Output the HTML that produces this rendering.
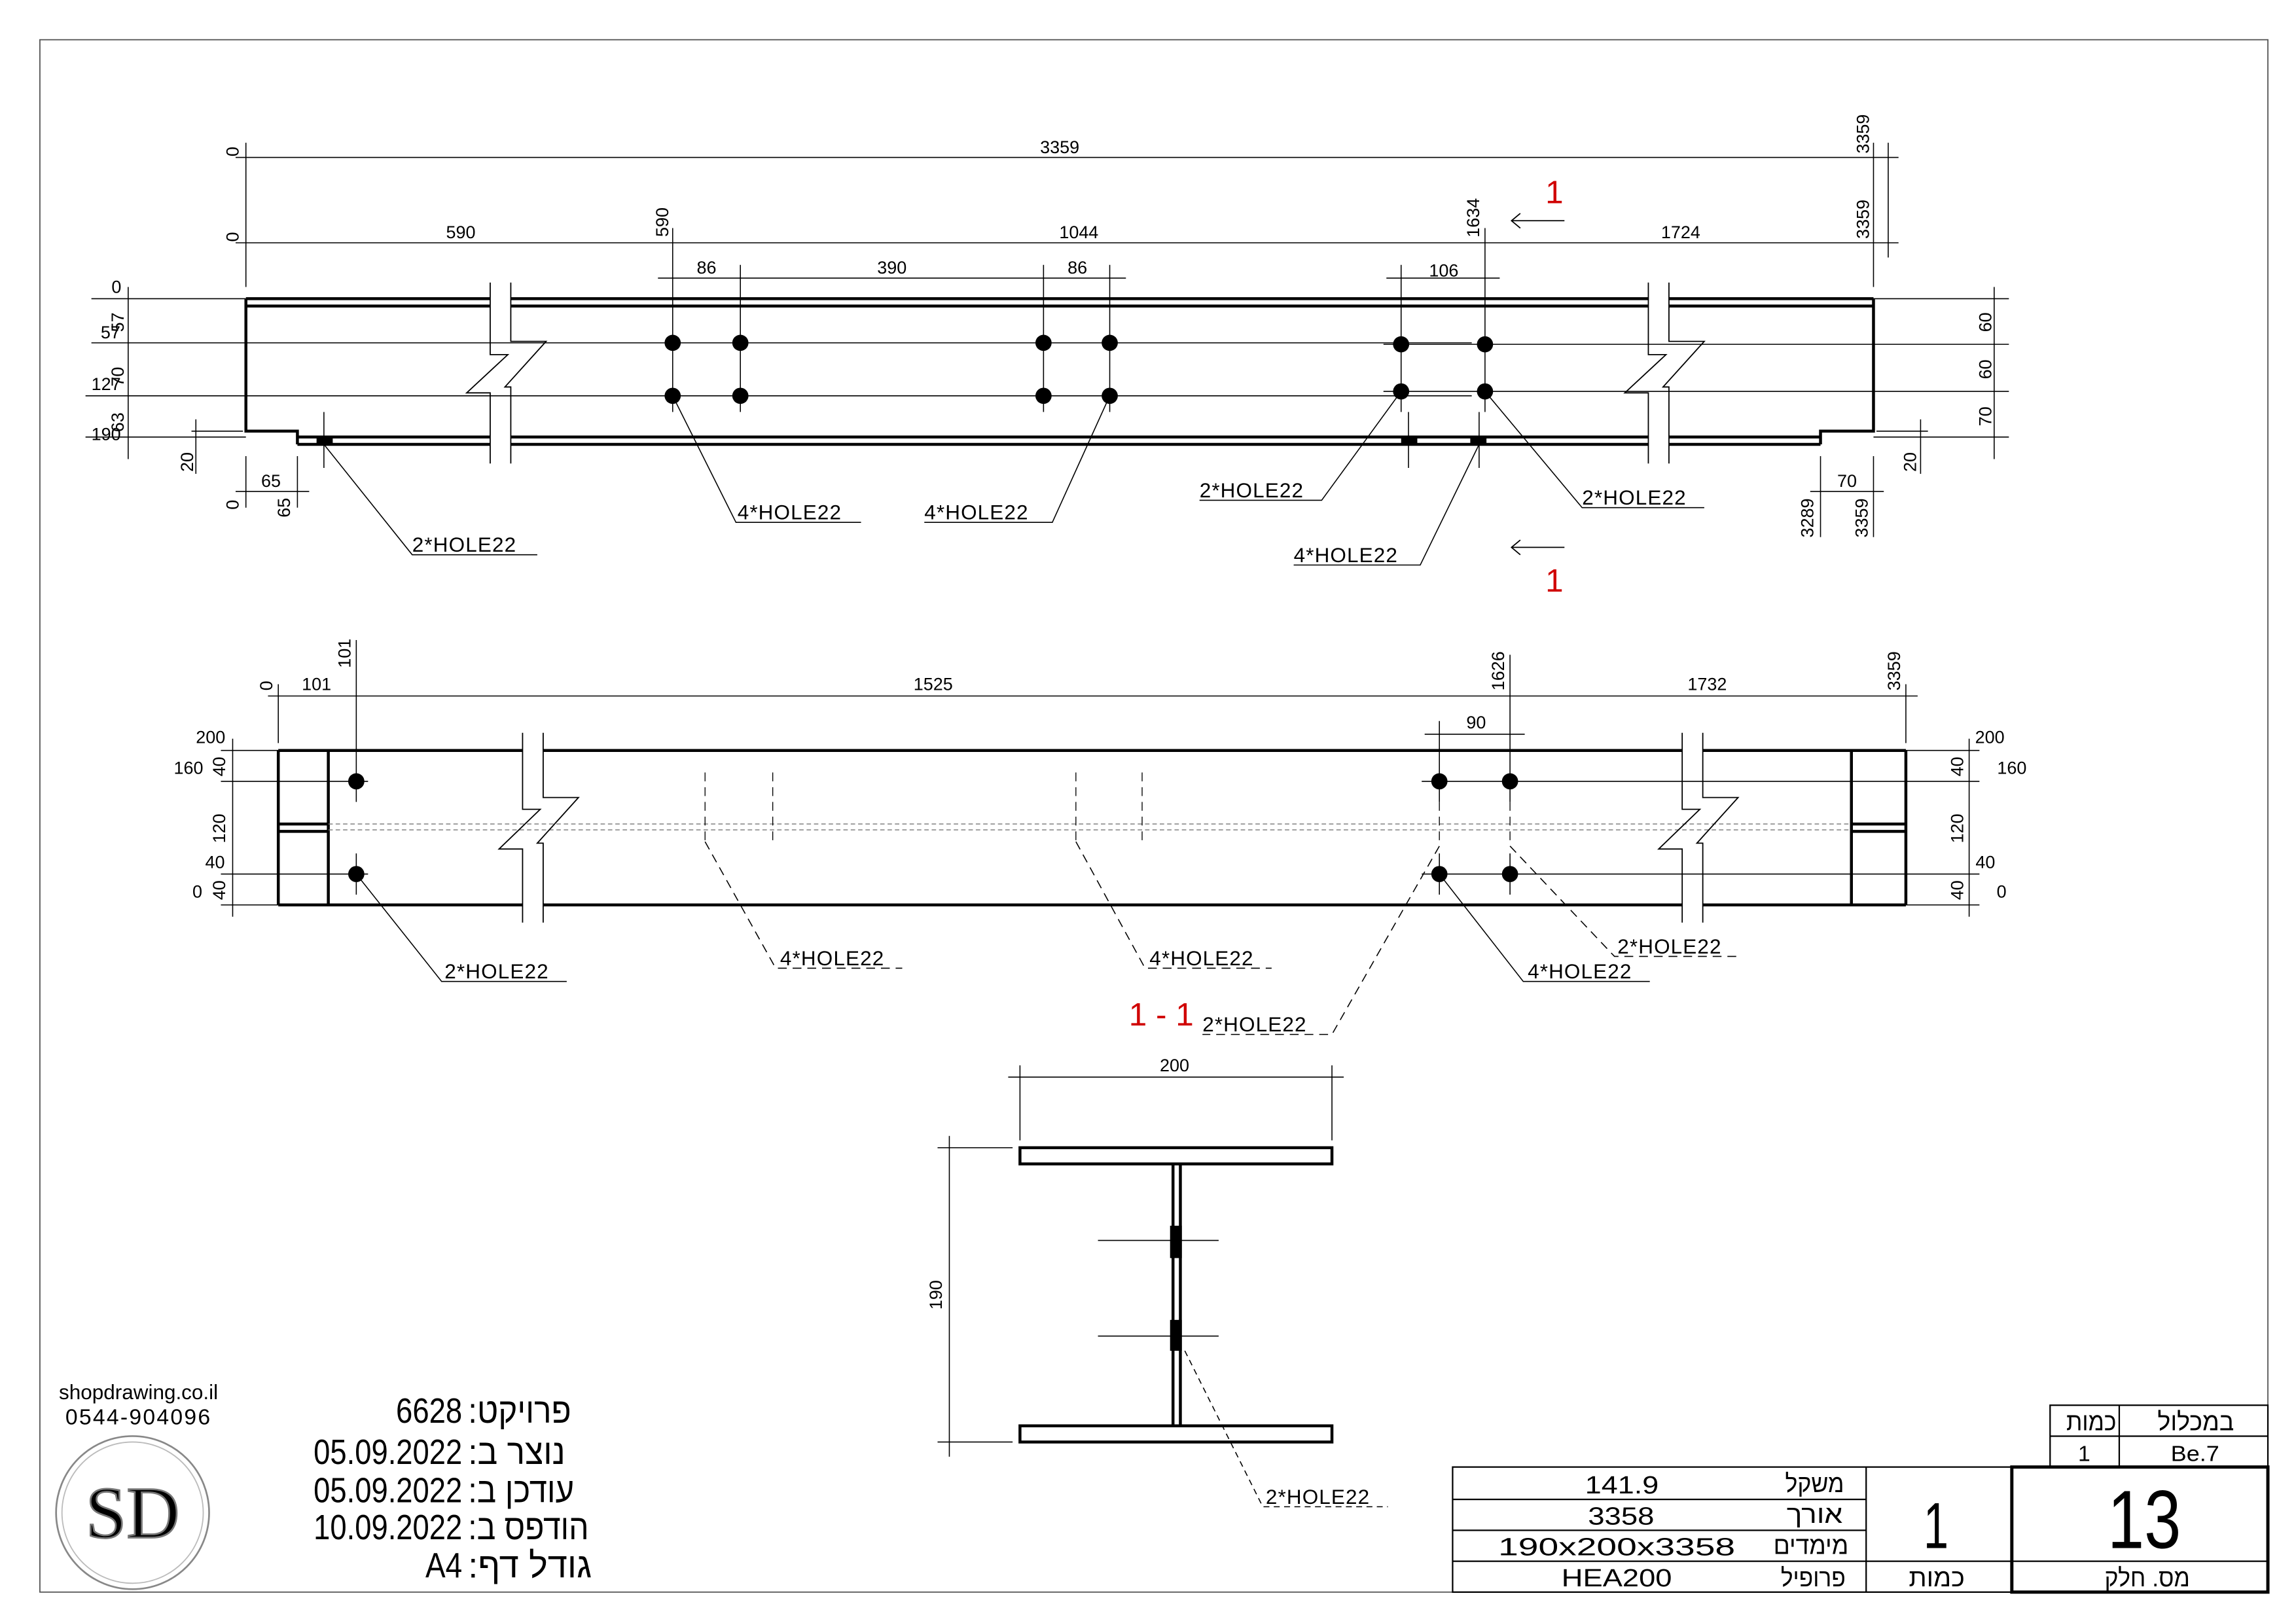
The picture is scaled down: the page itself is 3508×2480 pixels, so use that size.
<!DOCTYPE html>
<html><head><meta charset="utf-8"><style>
html,body{margin:0;padding:0;background:#fff}
svg{display:block}
text{font-family:"Liberation Sans Narrow","Liberation Sans","DejaVu Sans",sans-serif;fill:#000}
.d{font-size:12px}
.h{font-size:14px;font-family:"Liberation Sans","DejaVu Sans",sans-serif;letter-spacing:0.5px}
.r{fill:#d00000;font-family:"Liberation Sans",sans-serif}
</style></head><body>
<svg width="3508" height="2480" viewBox="0 0 1560 1103" xmlns="http://www.w3.org/2000/svg">
<rect x="0" y="0" width="1560" height="1103" fill="#fff"/>
<rect x="27" y="27" width="1514" height="1055" fill="none" stroke="#555" stroke-width="0.8"/>

<!-- ===== TOP VIEW ===== -->
<g stroke="#000" fill="none">
<g stroke-width="2">
<line x1="167" y1="203" x2="333" y2="203"/><line x1="347" y1="203" x2="1120" y2="203"/><line x1="1134" y1="203" x2="1273" y2="203"/>
<line x1="167" y1="208" x2="333" y2="208"/><line x1="347" y1="208" x2="1120" y2="208"/><line x1="1134" y1="208" x2="1273" y2="208"/>
<line x1="202" y1="297" x2="333" y2="297"/><line x1="347" y1="297" x2="1120" y2="297"/><line x1="1134" y1="297" x2="1237" y2="297"/>
<line x1="202" y1="302" x2="333" y2="302"/><line x1="347" y1="302" x2="1120" y2="302"/><line x1="1134" y1="302" x2="1237" y2="302"/>
<polyline points="167,203 167,293 202,293 202,302"/>
<polyline points="1273,203 1273,293 1237,293 1237,302"/>
</g>
<g stroke-width="0.8">
<polyline points="347,192 347,232 371,232 343,263 347,263 347,315"/>
<polyline points="333,192 333,241 345,241 317,267 333,267 333,315"/>
<polyline points="1134,192 1134,232 1158,232 1130,263 1134,263 1134,315"/>
<polyline points="1120,192 1120,241 1132,241 1104,267 1120,267 1120,315"/>
</g>
<g stroke-width="0.7">
<line x1="62" y1="233" x2="1000" y2="233"/>
<line x1="58" y1="269" x2="1000" y2="269"/>
<line x1="62" y1="203" x2="167" y2="203"/>
<line x1="58" y1="297" x2="167" y2="297"/>
<line x1="940" y1="234" x2="1365" y2="234"/>
<line x1="940" y1="266" x2="1365" y2="266"/>
<line x1="1273" y1="203" x2="1365" y2="203"/>
<line x1="1273" y1="297" x2="1365" y2="297"/>
<line x1="87" y1="195" x2="87" y2="312"/>
<line x1="1355" y1="195" x2="1355" y2="312"/>
<line x1="160" y1="107" x2="1290" y2="107"/>
<line x1="160" y1="165" x2="1290" y2="165"/>
<line x1="447" y1="189" x2="765" y2="189"/>
<line x1="942" y1="189" x2="1019" y2="189"/>
<line x1="167" y1="97" x2="167" y2="195"/>
<line x1="1273" y1="97" x2="1273" y2="195"/>
<line x1="1283" y1="97" x2="1283" y2="175"/>
<line x1="457" y1="155" x2="457" y2="280"/>
<line x1="503" y1="180" x2="503" y2="280"/>
<line x1="709" y1="180" x2="709" y2="280"/>
<line x1="754" y1="180" x2="754" y2="280"/>
<line x1="952" y1="180" x2="952" y2="280"/>
<line x1="1009" y1="155" x2="1009" y2="280"/>
<line x1="130" y1="293" x2="165" y2="293"/>
<line x1="133" y1="285" x2="133" y2="322"/>
<line x1="167" y1="310" x2="167" y2="345"/>
<line x1="202" y1="310" x2="202" y2="345"/>
<line x1="160" y1="334" x2="210" y2="334"/>
<line x1="220" y1="280" x2="220" y2="318"/>
<line x1="957" y1="280" x2="957" y2="318"/>
<line x1="1005" y1="280" x2="1005" y2="318"/>
<line x1="1237" y1="310" x2="1237" y2="365"/>
<line x1="1273" y1="310" x2="1273" y2="365"/>
<line x1="1230" y1="334" x2="1280" y2="334"/>
<line x1="1275" y1="293" x2="1310" y2="293"/>
<line x1="1305" y1="285" x2="1305" y2="322"/>
</g>
</g>
<g fill="#000">
<circle cx="457" cy="233" r="5.5"/><circle cx="503" cy="233" r="5.5"/><circle cx="709" cy="233" r="5.5"/><circle cx="754" cy="233" r="5.5"/>
<circle cx="457" cy="269" r="5.5"/><circle cx="503" cy="269" r="5.5"/><circle cx="709" cy="269" r="5.5"/><circle cx="754" cy="269" r="5.5"/>
<circle cx="952" cy="234" r="5.5"/><circle cx="1009" cy="234" r="5.5"/><circle cx="952" cy="266" r="5.5"/><circle cx="1009" cy="266" r="5.5"/>
<rect x="215" y="297" width="11" height="5"/><rect x="952" y="297" width="11" height="5"/><rect x="999" y="297" width="11" height="5"/>
</g>
<g class="d" text-anchor="middle">
<text x="720" y="104">3359</text>
<text x="313" y="162">590</text><text x="733" y="162">1044</text><text x="1142" y="162">1724</text>
<text x="480" y="186">86</text><text x="606" y="186">390</text><text x="732" y="186">86</text><text x="981" y="188">106</text>
<text x="79" y="199">0</text><text x="75" y="230">57</text><text x="72" y="265">127</text><text x="72" y="299">190</text>
<text x="184" y="331">65</text><text x="1255" y="331">70</text>
<text transform="translate(162,103) rotate(-90)">0</text>
<text transform="translate(162,161) rotate(-90)">0</text>
<text transform="translate(1270,91) rotate(-90)">3359</text>
<text transform="translate(1270,149) rotate(-90)">3359</text>
<text transform="translate(454,151) rotate(-90)">590</text>
<text transform="translate(1005,148) rotate(-90)">1634</text>
<text transform="translate(84,219) rotate(-90)">57</text>
<text transform="translate(84,256) rotate(-90)">70</text>
<text transform="translate(84,287) rotate(-90)">63</text>
<text transform="translate(1353,219) rotate(-90)">60</text>
<text transform="translate(1353,251) rotate(-90)">60</text>
<text transform="translate(1353,283) rotate(-90)">70</text>
<text transform="translate(131,314) rotate(-90)">20</text>
<text transform="translate(1302,314) rotate(-90)">20</text>
<text transform="translate(162,343) rotate(-90)">0</text>
<text transform="translate(197,345) rotate(-90)">65</text>
<text transform="translate(1232,352) rotate(-90)">3289</text>
<text transform="translate(1269,352) rotate(-90)">3359</text>
</g>
<text class="r" x="1050" y="138" font-size="22">1</text>
<text class="r" x="1050" y="402" font-size="22">1</text>
<g stroke="#000" stroke-width="0.8" fill="none">
<line x1="1027" y1="150" x2="1063" y2="150"/><polyline points="1033,145 1027,150 1033,155"/>
<line x1="1027" y1="372" x2="1063" y2="372"/><polyline points="1033,367 1027,372 1033,377"/>
</g>
<g stroke="#000" stroke-width="0.7" fill="none">
<polyline points="220,302 280,377 365,377"/>
<polyline points="457,269 500,355 585,355"/>
<polyline points="754,269 715,355 628,355"/>
<polyline points="952,266 898,340 815,340"/>
<polyline points="1009,266 1075,345 1158,345"/>
<polyline points="1005,302 965,384 879,384"/>
</g>
<g class="h">
<text x="280" y="375">2*HOLE22</text>
<text x="501" y="353">4*HOLE22</text>
<text x="628" y="353">4*HOLE22</text>
<text x="815" y="338">2*HOLE22</text>
<text x="1075" y="343">2*HOLE22</text>
<text x="879" y="382">4*HOLE22</text>
</g>

<!-- ===== PLAN VIEW ===== -->
<g stroke="#000" fill="none">
<g stroke-width="2">
<line x1="189" y1="510" x2="355" y2="510"/><line x1="369" y1="510" x2="1143" y2="510"/><line x1="1157" y1="510" x2="1295" y2="510"/>
<line x1="189" y1="615" x2="355" y2="615"/><line x1="369" y1="615" x2="1143" y2="615"/><line x1="1157" y1="615" x2="1295" y2="615"/>
<line x1="189" y1="510" x2="189" y2="615"/><line x1="1295" y1="510" x2="1295" y2="615"/>
<line x1="223" y1="510" x2="223" y2="615"/><line x1="1258" y1="510" x2="1258" y2="615"/>
<line x1="189" y1="560" x2="223" y2="560"/><line x1="189" y1="565" x2="223" y2="565"/>
<line x1="1258" y1="560" x2="1295" y2="560"/><line x1="1258" y1="565" x2="1295" y2="565"/>
</g>
<g stroke="#777" stroke-width="0.6" stroke-dasharray="3,2">
<line x1="223" y1="560" x2="1258" y2="560"/><line x1="223" y1="564" x2="1258" y2="564"/>
</g>
<g stroke-width="0.8">
<polyline points="369,498 369,542 393,542 365,573 369,573 369,627"/>
<polyline points="355,498 355,550 367,550 339,577 355,577 355,627"/>
<polyline points="1157,498 1157,542 1181,542 1153,573 1157,573 1157,627"/>
<polyline points="1143,498 1143,550 1155,550 1127,577 1143,577 1143,627"/>
</g>
<g stroke-width="0.7">
<line x1="182" y1="473" x2="1303" y2="473"/>
<line x1="968" y1="499" x2="1036" y2="499"/>
<line x1="189" y1="465" x2="189" y2="505"/>
<line x1="242" y1="435" x2="242" y2="545"/>
<line x1="1026" y1="445" x2="1026" y2="545"/>
<line x1="978" y1="490" x2="978" y2="545"/>
<line x1="1295" y1="465" x2="1295" y2="505"/>
<line x1="150" y1="510" x2="189" y2="510"/><line x1="150" y1="531" x2="250" y2="531"/>
<line x1="150" y1="594" x2="250" y2="594"/><line x1="150" y1="615" x2="189" y2="615"/>
<line x1="158" y1="502" x2="158" y2="623"/>
<line x1="1295" y1="510" x2="1345" y2="510"/><line x1="966" y1="531" x2="1345" y2="531"/>
<line x1="966" y1="594" x2="1345" y2="594"/><line x1="1295" y1="615" x2="1345" y2="615"/>
<line x1="1338" y1="502" x2="1338" y2="623"/>
<line x1="242" y1="580" x2="242" y2="608"/><line x1="978" y1="580" x2="978" y2="608"/><line x1="1026" y1="580" x2="1026" y2="608"/>
</g>
<g stroke-width="0.6" stroke-dasharray="6,4">
<line x1="479" y1="525" x2="479" y2="572"/><line x1="525" y1="525" x2="525" y2="572"/>
<line x1="731" y1="525" x2="731" y2="572"/><line x1="776" y1="525" x2="776" y2="572"/>
<line x1="978" y1="545" x2="978" y2="575"/><line x1="1026" y1="545" x2="1026" y2="575"/>
</g>
</g>
<g fill="#000">
<circle cx="242" cy="531" r="5.5"/><circle cx="242" cy="594" r="5.5"/>
<circle cx="978" cy="531" r="5.5"/><circle cx="1026" cy="531" r="5.5"/>
<circle cx="978" cy="594" r="5.5"/><circle cx="1026" cy="594" r="5.5"/>
</g>
<g class="d" text-anchor="middle">
<text x="215" y="469">101</text><text x="634" y="469">1525</text><text x="1160" y="469">1732</text>
<text x="1003" y="495">90</text>
<text x="143" y="505">200</text><text x="128" y="526">160</text><text x="146" y="590">40</text><text x="134" y="610">0</text>
<text x="1352" y="505">200</text><text x="1367" y="526">160</text><text x="1349" y="590">40</text><text x="1360" y="610">0</text>
<text transform="translate(185,466) rotate(-90)">0</text>
<text transform="translate(238,444) rotate(-90)">101</text>
<text transform="translate(1022,456) rotate(-90)">1626</text>
<text transform="translate(1291,456) rotate(-90)">3359</text>
<text transform="translate(153,521) rotate(-90)">40</text>
<text transform="translate(153,563) rotate(-90)">120</text>
<text transform="translate(153,605) rotate(-90)">40</text>
<text transform="translate(1334,521) rotate(-90)">40</text>
<text transform="translate(1334,563) rotate(-90)">120</text>
<text transform="translate(1334,605) rotate(-90)">40</text>
</g>
<g stroke="#000" stroke-width="0.7" fill="none">
<polyline points="242,594 300,667 385,667"/>
<polyline points="978,594 1035,667 1121,667"/>
<g stroke-dasharray="6,4">
<polyline points="479,572 527,658 613,658"/>
<polyline points="731,572 778,658 864,658"/>
<polyline points="1026,575 1097,650 1182,650"/>
<polyline points="978,575 905,703 817,703"/>
</g>
</g>
<g class="h">
<text x="302" y="665">2*HOLE22</text>
<text x="530" y="656">4*HOLE22</text>
<text x="781" y="656">4*HOLE22</text>
<text x="1099" y="648">2*HOLE22</text>
<text x="1038" y="665">4*HOLE22</text>
<text x="817" y="701">2*HOLE22</text>
</g>
<text class="r" x="767" y="697" font-size="22">1 - 1</text>

<!-- ===== SECTION ===== -->
<g stroke="#000" fill="none">
<rect x="693" y="780" width="212" height="11" stroke-width="2"/>
<rect x="693" y="969" width="212" height="11" stroke-width="2"/>
<line x1="797" y1="791" x2="797" y2="969" stroke-width="2"/>
<line x1="802" y1="791" x2="802" y2="969" stroke-width="2"/>
<g stroke-width="0.7">
<line x1="746" y1="843" x2="828" y2="843"/><line x1="746" y1="908" x2="828" y2="908"/>
<line x1="685" y1="732" x2="913" y2="732"/>
<line x1="693" y1="724" x2="693" y2="775"/><line x1="905" y1="724" x2="905" y2="775"/>
<line x1="645" y1="772" x2="645" y2="990"/>
<line x1="637" y1="780" x2="688" y2="780"/><line x1="637" y1="980" x2="688" y2="980"/>
<polyline points="805,918 858,1024 943,1024" stroke-dasharray="4,3"/>
</g>
</g>
<rect x="795" y="833" width="8" height="22" fill="#000"/>
<rect x="795" y="897" width="8" height="21" fill="#000"/>
<text class="d" x="798" y="728" text-anchor="middle">200</text>
<text class="d" transform="translate(640,880) rotate(-90)" text-anchor="middle">190</text>
<text class="h" x="860" y="1022">2*HOLE22</text>

<!-- ===== TITLE LEFT ===== -->
<text x="94" y="951" font-size="14" text-anchor="middle" style="font-family:'Liberation Sans',sans-serif">shopdrawing.co.il</text>
<text x="94" y="968" font-size="15" text-anchor="middle" style="font-family:'Liberation Sans',sans-serif;letter-spacing:1px">0544-904096</text>
<circle cx="90" cy="1028" r="52" fill="none" stroke="#888" stroke-width="1.2"/>
<circle cx="90" cy="1028" r="48" fill="none" stroke="#bbb" stroke-width="0.8"/>
<text x="90" y="1045" font-size="50" text-anchor="middle" fill="#fff" stroke="#777" stroke-width="1.2" style="font-family:'Liberation Serif',serif">SD</text>
<g font-size="24" style="font-family:'Liberation Sans Narrow','Liberation Sans','Noto Sans CJK SC',sans-serif">
<text x="269" y="967" textLength="45" lengthAdjust="spacingAndGlyphs">6628</text><text x="318" y="967" textLength="70" lengthAdjust="spacingAndGlyphs">:פרויקט</text>
<text x="213" y="995" textLength="101" lengthAdjust="spacingAndGlyphs">05.09.2022</text><text x="318" y="995" textLength="66" lengthAdjust="spacingAndGlyphs">:נוצר ב</text>
<text x="213" y="1021" textLength="101" lengthAdjust="spacingAndGlyphs">05.09.2022</text><text x="318" y="1021" textLength="72" lengthAdjust="spacingAndGlyphs">:עודכן ב</text>
<text x="213" y="1046" textLength="101" lengthAdjust="spacingAndGlyphs">10.09.2022</text><text x="318" y="1046" textLength="82" lengthAdjust="spacingAndGlyphs">:הודפס ב</text>
<text x="289" y="1072" textLength="25" lengthAdjust="spacingAndGlyphs">A4</text><text x="318" y="1072" textLength="84" lengthAdjust="spacingAndGlyphs">:גודל דף</text>
</g>

<!-- ===== TITLE TABLE ===== -->
<g stroke="#000" fill="none" stroke-width="1">
<rect x="987" y="997" width="380" height="85"/>
<line x1="987" y1="1019" x2="1268" y2="1019"/>
<line x1="987" y1="1040" x2="1268" y2="1040"/>
<line x1="987" y1="1061" x2="1367" y2="1061"/>
<line x1="1268" y1="997" x2="1268" y2="1082"/>
<rect x="1367" y="997" width="174" height="85" stroke-width="2.2"/>
<line x1="1367" y1="1061" x2="1541" y2="1061"/>
<rect x="1393" y="955" width="148" height="42"/>
<line x1="1393" y1="976" x2="1541" y2="976"/>
<line x1="1440" y1="955" x2="1440" y2="997"/>
</g>
<g font-size="17" style="font-family:'Liberation Sans','Noto Sans CJK SC',sans-serif">
<text x="1077" y="1015" textLength="50" lengthAdjust="spacingAndGlyphs">141.9</text>
<text x="1079" y="1036" textLength="45" lengthAdjust="spacingAndGlyphs">3358</text>
<text x="1018" y="1057" textLength="161" lengthAdjust="spacingAndGlyphs">190x200x3358</text>
<text x="1061" y="1078" textLength="75" lengthAdjust="spacingAndGlyphs">HEA200</text>
<text x="1213" y="1014" textLength="40" lengthAdjust="spacingAndGlyphs">משקל</text>
<text x="1214" y="1035" textLength="38" lengthAdjust="spacingAndGlyphs">אורך</text>
<text x="1205" y="1056" textLength="51" lengthAdjust="spacingAndGlyphs">מימדים</text>
<text x="1210" y="1078" textLength="44" lengthAdjust="spacingAndGlyphs">פרופיל</text>
<text x="1297" y="1078" textLength="38" lengthAdjust="spacingAndGlyphs">כמות</text>
<text x="1430" y="1078" textLength="58" lengthAdjust="spacingAndGlyphs">מס. חלק</text>
<text x="1404" y="972" textLength="34" lengthAdjust="spacingAndGlyphs">כמות</text>
<text x="1466" y="972" textLength="52" lengthAdjust="spacingAndGlyphs">במכלול</text>
<text x="1412" y="993" font-size="15">1</text>
<text x="1475" y="993" font-size="15" textLength="33" lengthAdjust="spacingAndGlyphs">Be.7</text>
<text x="1307" y="1052" font-size="44" textLength="17" lengthAdjust="spacingAndGlyphs">1</text>
<text x="1432" y="1052" font-size="56" textLength="50" lengthAdjust="spacingAndGlyphs">13</text>
</g>
</svg>
</body></html>
